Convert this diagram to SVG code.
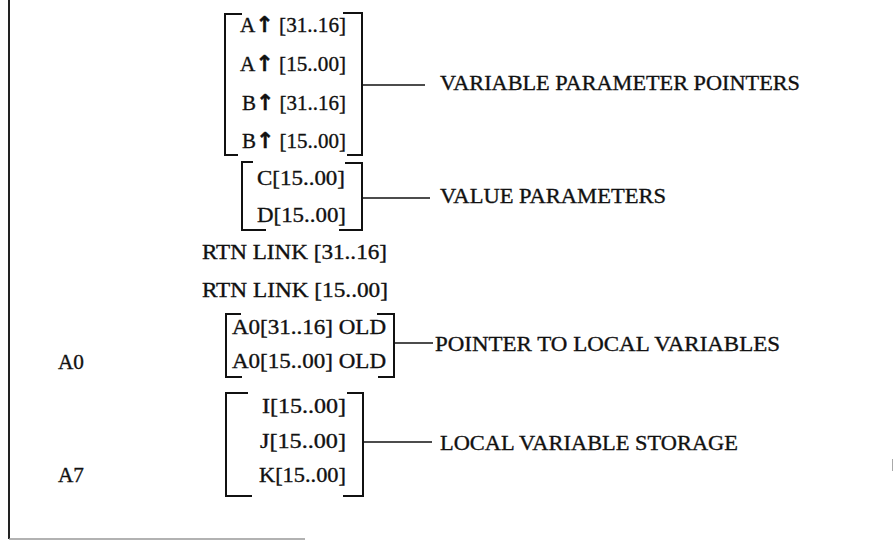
<svg xmlns="http://www.w3.org/2000/svg" width="894" height="540" viewBox="0 0 894 540">
<style>
text{font-family:"Liberation Serif","DejaVu Serif",serif;font-size:21px;fill:#111;stroke:#111;stroke-width:0.35}
.lbl{font-size:22px}
.arr{font-family:"DejaVu Sans",sans-serif;font-weight:bold;font-size:22px}
.br{fill:none;stroke:#111;stroke-width:2}
.con{fill:none;stroke:#111;stroke-width:1.6}
</style>
<rect width="894" height="540" fill="#fff"/>
<g id="frame">
<line x1="9" y1="0" x2="9" y2="539" stroke="#222" stroke-width="2"/>
<line x1="9" y1="539" x2="305" y2="539" stroke="#999" stroke-width="1.5"/>
<line x1="892.5" y1="459" x2="892.5" y2="471" stroke="#aaa" stroke-width="1"/>
</g>
<g id="var-params">
<path class="br" d="M242,14 H225 V155 H238"/>
<path class="br" d="M343,13 H362 V155 H347"/>
<text x="240" y="32" textLength="106" lengthAdjust="spacingAndGlyphs">A<tspan class="arr">↑</tspan> [31..16]</text>
<text x="240" y="71" textLength="106" lengthAdjust="spacingAndGlyphs">A<tspan class="arr">↑</tspan> [15..00]</text>
<text x="242" y="110" textLength="104" lengthAdjust="spacingAndGlyphs">B<tspan class="arr">↑</tspan> [31..16]</text>
<text x="242" y="148" textLength="104" lengthAdjust="spacingAndGlyphs">B<tspan class="arr">↑</tspan> [15..00]</text>
</g>
<g id="value-params">
<path class="br" d="M253,162 H242 V230 H266"/>
<path class="br" d="M345,163 H362 V230 H339"/>
<text x="257" y="185" textLength="88" lengthAdjust="spacingAndGlyphs">C[15..00]</text>
<text x="257" y="222" textLength="89" lengthAdjust="spacingAndGlyphs">D[15..00]</text>
</g>
<g id="rtn-link">
<text x="202" y="259" textLength="185" lengthAdjust="spacingAndGlyphs">RTN LINK [31..16]</text>
<text x="202" y="297" textLength="186" lengthAdjust="spacingAndGlyphs">RTN LINK [15..00]</text>
</g>
<g id="old-a0">
<path class="br" d="M241,314 H226 V377 H242"/>
<path class="br" d="M377,314 H394 V377 H378"/>
<text x="232" y="334" textLength="154" lengthAdjust="spacingAndGlyphs">A0[31..16] OLD</text>
<text x="232" y="368" textLength="154" lengthAdjust="spacingAndGlyphs">A0[15..00] OLD</text>
</g>
<g id="local-vars">
<path class="br" d="M248,393 H226 V496 H252"/>
<path class="br" d="M347,393 H363 V496 H343"/>
<text x="262" y="413" textLength="84" lengthAdjust="spacingAndGlyphs">I[15..00]</text>
<text x="260" y="448" textLength="86" lengthAdjust="spacingAndGlyphs">J[15..00]</text>
<text x="259" y="482" textLength="87" lengthAdjust="spacingAndGlyphs">K[15..00]</text>
</g>
<g id="reg-a0"><text x="58" y="369" textLength="26" lengthAdjust="spacingAndGlyphs">A0</text></g>
<g id="reg-a7"><text x="58" y="482" textLength="26" lengthAdjust="spacingAndGlyphs">A7</text></g>
<g id="lbl-var"><text class="lbl" x="440" y="90" textLength="360" lengthAdjust="spacingAndGlyphs">VARIABLE PARAMETER POINTERS</text></g>
<g id="lbl-val"><text class="lbl" x="440" y="203" textLength="226" lengthAdjust="spacingAndGlyphs">VALUE PARAMETERS</text></g>
<g id="lbl-ptr"><text class="lbl" x="435" y="351" textLength="345" lengthAdjust="spacingAndGlyphs">POINTER TO LOCAL VARIABLES</text></g>
<g id="lbl-local"><text class="lbl" x="440" y="450" textLength="298" lengthAdjust="spacingAndGlyphs">LOCAL VARIABLE STORAGE</text></g>
<g id="connectors">
<line class="con" x1="394" y1="343" x2="433" y2="343"/>
<line class="con" x1="362" y1="85" x2="425" y2="85"/>
<line class="con" x1="362" y1="198" x2="430" y2="198"/>
<line class="con" x1="363" y1="442" x2="432" y2="442"/>
</g>
</svg>
